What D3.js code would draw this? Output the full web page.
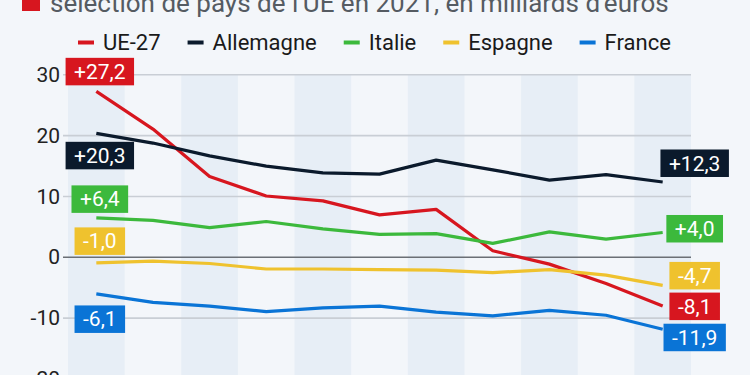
<!DOCTYPE html>
<html>
<head>
<meta charset="utf-8">
<script src="https://cdn.jsdelivr.net/npm/d3@7"></script>
<style>
  html, body { margin: 0; padding: 0; background: #f3f6fa; }
  svg { display: block; font-family: Roboto, "Noto Sans", sans-serif; }
</style>
</head>
<body>
<svg width="750" height="375"></svg>
<script>
(function () {

  const title = "sélection de pays de l'UE en 2021, en milliards d'euros";
  const months = ["janv.", "févr.", "mars", "avr.", "mai", "juin", "juil.", "août", "sept.", "oct.", "nov."];
  const yTicks = [-20, -10, 0, 10, 20, 30];

  const ue27 = [27.2, 21.0, 13.2, 10.0, 9.2, 6.9, 7.8, 1.0, -1.2, -4.4, -8.1];
  const allemagne = [20.3, 18.7, 16.6, 14.9, 13.8, 13.6, 15.9, 14.3, 12.6, 13.5, 12.3];
  const italie = [6.4, 6.0, 4.8, 5.8, 4.6, 3.7, 3.8, 2.2, 4.1, 2.9, 4.0];
  const espagne = [-1.0, -0.7, -1.1, -2.0, -2.0, -2.1, -2.2, -2.6, -2.1, -3.0, -4.7];
  const france = [-6.1, -7.5, -8.1, -9.0, -8.4, -8.1, -9.1, -9.7, -8.8, -9.6, -11.9];

  // dyFirst / dyLast: vertical shift of the end labels so they don't overlap
  const series = [
    { name: "UE-27", values: ue27, color: "#d7161f", dyFirst: -20, dyLast: 0 },
    { name: "Allemagne", values: allemagne, color: "#0b1a2c", dyFirst: 22, dyLast: -19 },
    { name: "Italie", values: italie, color: "#3cb93c", dyFirst: -19, dyLast: -4 },
    { name: "Espagne", values: espagne, color: "#efc22e", dyFirst: -22, dyLast: -10 },
    { name: "France", values: france, color: "#0a74d6", dyFirst: 25, dyLast: 8 }
  ];

  const svg = d3.select("svg");

  const x = d3.scaleBand().domain(months).range([68, 691]);
  const y = d3.scaleLinear().domain([-20, 30]).range([378.5, 74.3]);
  const cx = m => x(m) + x.bandwidth() / 2;

  // title (cut at top)
  svg.append("rect")
    .attr("x", 22).attr("y", -8).attr("width", 18).attr("height", 19)
    .attr("fill", "#d7161f");
  svg.append("text")
    .attr("x", 50).attr("y", 12)
    .attr("font-size", 26)
    .attr("fill", "#555b62")
    .text(title);

  // legend
  const legend = svg.append("g").attr("transform", "translate(78,0)");
  let lx = 0;
  series.forEach(s => {
    const g = legend.append("g").attr("transform", `translate(${lx},0)`);
    g.append("rect")
      .attr("x", 0).attr("y", 40.5).attr("width", 16).attr("height", 4)
      .attr("fill", s.color);
    const t = g.append("text")
      .attr("x", 25).attr("y", 49.5)
      .attr("font-size", 22)
      .attr("fill", "#1a1a1a")
      .text(s.name);
    lx += 25 + t.node().getComputedTextLength() + 27;
  });

  // alternating column bands
  svg.append("g")
    .selectAll("rect")
    .data(months.filter((m, i) => i % 2 === 0))
    .enter().append("rect")
    .attr("x", d => x(d))
    .attr("y", y(30))
    .attr("width", x.bandwidth())
    .attr("height", 375 - y(30))
    .attr("fill", "#e7eef6");

  // grid + y axis
  const yAxis = d3.axisLeft(y).tickValues(yTicks).tickSize(628).tickFormat(d => d);
  const ga = svg.append("g")
    .attr("transform", "translate(691,0)")
    .call(yAxis);
  ga.select(".domain").remove();
  ga.selectAll(".tick line")
    .attr("stroke", d => d === 0 ? "#6b6f75" : "#c9ced5")
    .attr("stroke-width", 1.6);
  ga.selectAll(".tick text")
    .attr("x", -631)
    .attr("dy", "0.34em")
    .attr("font-size", 21)
    .attr("font-family", "Roboto, sans-serif")
    .attr("fill", "#222");

  // lines
  const line = d3.line()
    .x((d, i) => cx(months[i]))
    .y(d => y(d));

  svg.append("g")
    .selectAll("path")
    .data(series)
    .enter().append("path")
    .attr("d", d => line(d.values))
    .attr("fill", "none")
    .attr("stroke", d => d.color)
    .attr("stroke-width", 3.2)
    .attr("stroke-linejoin", "round");

  const fmt = v => (v > 0 ? "+" : "") + v.toFixed(1).replace(".", ",");

  function label(s, i, xc, dy) {
    const v = s.values[i];
    const yc = y(v) + dy;
    const g = svg.append("g");
    const t = g.append("text")
      .attr("x", xc).attr("y", yc)
      .attr("dy", "0.36em")
      .attr("text-anchor", "middle")
      .attr("font-size", 21)
      .attr("fill", "#fff")
      .text(fmt(v));
    const w = t.node().getComputedTextLength() + 17;
    g.insert("rect", "text")
      .attr("x", xc - w / 2).attr("y", yc - 13.5)
      .attr("width", w).attr("height", 27.5)
      .attr("fill", s.color);
  }

  series.forEach(s => {
    label(s, 0, cx(months[0]) + 3.5, s.dyFirst);
    label(s, months.length - 1, cx(months[months.length - 1]) + 32, s.dyLast);
  });

}());
</script>
</body>
</html>
